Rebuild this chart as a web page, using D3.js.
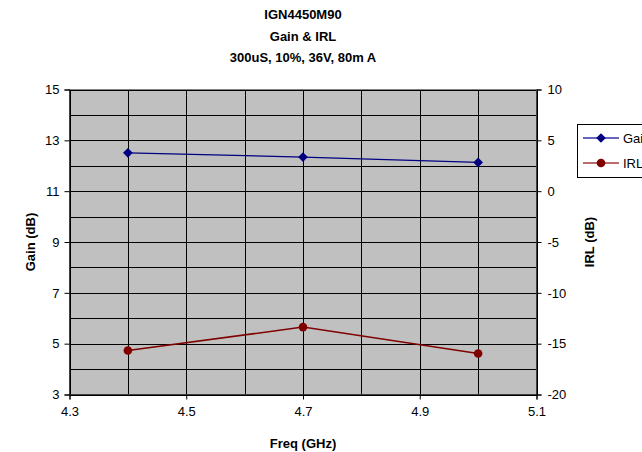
<!DOCTYPE html>
<html><head><meta charset="utf-8">
<script src="https://cdn.jsdelivr.net/npm/d3@7"></script>
<style>body{margin:0;background:#fff;}svg{display:block;font-family:"Liberation Sans",Arial,sans-serif;}</style>
</head><body><svg id="c" width="642" height="452"></svg>
<script>
const freq = [4.4, 4.7, 5.0];
const gain = [12.51, 12.34, 12.13];
const irl = [-15.67, -13.37, -15.96];
const xTicks = [4.3, 4.5, 4.7, 4.9, 5.1];
const yLeftTicks = [3, 5, 7, 9, 11, 13, 15];
const yRightTicks = [-20, -15, -10, -5, 0, 5, 10];
const titles = ["IGN4450M90", "Gain & IRL", "300uS, 10%, 36V, 80m A"];
const seriesNames = ["Gain", "IRL"];

const svg = d3.select("#c");
const L = 69.5, R = 536.5, T = 89.5, B = 394.5;
const x = d3.scaleLinear().domain([4.3, 5.1]).range([L, R]);
const yL = d3.scaleLinear().domain([3, 15]).range([B, T]);
const yR = d3.scaleLinear().domain([-20, 10]).range([B, T]);

svg.append("rect").attr("x", L).attr("y", T).attr("width", R - L).attr("height", B - T).attr("fill", "#C0C0C0");

// grid
const hGrid = d3.range(3, 16, 1);
svg.append("g").selectAll("line").data(hGrid).join("line")
  .attr("x1", L).attr("x2", R).attr("y1", d => Math.round(yL(d)) + 0.5).attr("y2", d => Math.round(yL(d)) + 0.5)
  .attr("stroke", "#000").attr("stroke-width", 1);
const vGrid = d3.range(0, 9).map(i => 4.3 + i * 0.1);
svg.append("g").selectAll("line").data(vGrid).join("line")
  .attr("y1", T).attr("y2", B).attr("x1", d => Math.round(x(d)) + 0.5).attr("x2", d => Math.round(x(d)) + 0.5)
  .attr("stroke", "#000").attr("stroke-width", 1);
// border
svg.append("rect").attr("x", L).attr("y", T).attr("width", R - L).attr("height", B - T)
  .attr("fill", "none").attr("stroke", "#808080").attr("stroke-width", 1);

function styleAxis(g) {
  g.select(".domain").attr("stroke", "#000");
  g.selectAll(".tick line").attr("stroke", "#000");
  g.selectAll("text").attr("font-size", 13).attr("fill", "#000").attr("font-family", '"Liberation Sans",Arial,sans-serif');
}
svg.append("g").attr("transform", `translate(${L},0)`)
  .call(d3.axisLeft(yL).tickValues(yLeftTicks).tickSize(5).tickPadding(5).tickFormat(d => String(d)))
  .call(styleAxis);
svg.append("g").attr("transform", `translate(${R},0)`)
  .call(d3.axisRight(yR).tickValues(yRightTicks).tickSize(5).tickPadding(6).tickFormat(d => String(d)))
  .call(styleAxis);
svg.append("g").attr("transform", `translate(0,${B})`)
  .call(d3.axisBottom(x).tickValues(xTicks).tickSize(5).tickPadding(7).tickFormat(d => d.toFixed(1)))
  .call(styleAxis);

// lines
const gainColor = "#000080", irlColor = "#800000";
const lineG = d3.line().x((d, i) => x(freq[i])).y(d => yL(d));
const lineR = d3.line().x((d, i) => x(freq[i])).y(d => yR(d));
svg.append("path").attr("d", lineG(gain)).attr("fill", "none").attr("stroke", gainColor).attr("stroke-width", 1.3);
svg.append("path").attr("d", lineR(irl)).attr("fill", "none").attr("stroke", irlColor).attr("stroke-width", 1.5);
const diamond = d3.symbol().type(d3.symbolDiamond2).size(60);
svg.append("g").selectAll("path").data(gain).join("path")
  .attr("d", diamond).attr("transform", (d, i) => `translate(${x(freq[i])},${yL(d)})`).attr("fill", gainColor);
svg.append("g").selectAll("circle").data(irl).join("circle")
  .attr("cx", (d, i) => x(freq[i])).attr("cy", d => yR(d)).attr("r", 4.3).attr("fill", irlColor);

// titles
svg.append("g").selectAll("text").data(titles).join("text")
  .attr("x", 303).attr("y", (d, i) => 19 + i * 21.5).attr("text-anchor", "middle")
  .attr("font-size", 13).attr("font-weight", "bold").text(d => d);

svg.append("text").attr("x", 303).attr("y", 448).attr("text-anchor", "middle")
  .attr("font-size", 13).attr("font-weight", "bold").text("Freq (GHz)");
svg.append("text").attr("transform", "translate(35,242) rotate(-90)").attr("text-anchor", "middle")
  .attr("font-size", 13).attr("font-weight", "bold").text("Gain (dB)");
svg.append("text").attr("transform", "translate(594,242) rotate(-90)").attr("text-anchor", "middle")
  .attr("font-size", 13).attr("font-weight", "bold").text("IRL (dB)");

// legend
const lg = svg.append("g");
lg.append("rect").attr("x", 577.5).attr("y", 124.5).attr("width", 80).attr("height", 53)
  .attr("fill", "#fff").attr("stroke", "#000").attr("stroke-width", 1);
const legColors = [gainColor, irlColor];
seriesNames.forEach((n, i) => {
  const yy = 138 + i * 25;
  lg.append("line").attr("x1", 583).attr("x2", 619).attr("y1", yy).attr("y2", yy)
    .attr("stroke", i === 0 ? "#3333aa" : "#a33a3a").attr("stroke-width", 1.5);
  if (i === 0) lg.append("path").attr("d", diamond).attr("transform", `translate(601,${yy})`).attr("fill", gainColor);
  else lg.append("circle").attr("cx", 601).attr("cy", yy).attr("r", 4.3).attr("fill", irlColor);
  lg.append("text").attr("x", 623).attr("y", yy + 5).attr("font-size", 13).text(n);
});
</script></body></html>
